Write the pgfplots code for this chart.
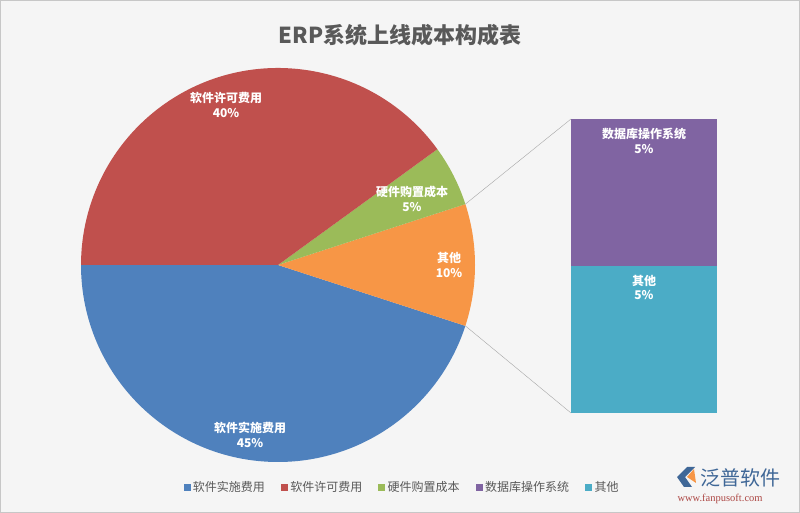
\documentclass[border=0pt]{standalone}
\usepackage{pgfplots}
\pgfplotsset{compat=1.18}
\usepackage{fontspec}
\setmainfont{Noto Sans CJK SC}
\newfontfamily\wmserif{Liberation Serif}
\definecolor{cBlue}{HTML}{4F81BD}
\definecolor{cRed}{HTML}{C0504D}
\definecolor{cGreen}{HTML}{9BBB59}
\definecolor{cPurple}{HTML}{8064A2}
\definecolor{cCyan}{HTML}{4BACC6}
\definecolor{cOrange}{HTML}{F79646}
\definecolor{txt}{HTML}{595959}
\tikzset{lbl/.style={text=white, align=center, font=\fontsize{12}{14.5}\selectfont\bfseries}}
\begin{document}
\begin{tikzpicture}
% main canvas: 1 axis unit = 1pt = 1 pixel of the reference
\begin{axis}[at={(0pt,0pt)}, anchor=south west,
    width=800pt, height=513pt, scale only axis,
    xmin=0, xmax=800, ymin=0, ymax=513,
    hide axis, clip=false,
    legend columns=-1,
    legend image code/.code={\fill[#1] (0pt,-3pt) rectangle (6pt,3pt);},
    legend style={draw=none, fill=none, at={(axis cs:402,26)}, anchor=center,
        font=\fontsize{12}{14}\selectfont, text=txt,
        /tikz/every odd column/.append style={column sep=1pt},
        /tikz/every even column/.append style={column sep=14pt}},
]
\fill[black!4] (axis cs:0,0) rectangle (axis cs:800,513);
\draw[black!22] (axis cs:0.5,0.5) rectangle (axis cs:799.5,512.5);

% pie: values in percent, starting at 180 deg, counter-clockwise
\def\acc{180}
\foreach \v/\c in {45/cBlue, 10/cOrange, 5/cGreen, 40/cRed}{
    \pgfmathsetmacro\a{\acc}
    \pgfmathsetmacro\b{\acc+3.6*\v}
    \edef\temp{\noexpand\fill[\c] (axis cs:278,248) -- ++(\a:197pt)
        arc[start angle=\a, end angle=\b, radius=197pt] -- cycle;}
    \temp
    \global\let\acc\b
}

% connector lines to the bar
\draw[black!35] (axis cs:278,248) ++(18:197pt) -- (axis cs:571,394);
\draw[black!35] (axis cs:278,248) ++(-18:197pt) -- (axis cs:571,100);

\node[lbl] at (axis cs:226,408) {软件许可费用\\40\%};
\node[lbl] at (axis cs:412,314) {硬件购置成本\\5\%};
\node[lbl] at (axis cs:449,248) {其他\\10\%};
\node[lbl] at (axis cs:250,78) {软件实施费用\\45\%};

% title
\node[text=txt, font=\fontsize{22}{26}\selectfont\bfseries] at (axis cs:400,478) {ERP系统上线成本构成表};

% watermark
\node[text=cBlue!80!black, font=\fontsize{20}{22}\selectfont, anchor=west] at (axis cs:697,35) {泛普软件};
\node[text=cRed!90!black, font=\wmserif\fontsize{10.5}{12}\selectfont, anchor=west] at (axis cs:674,14) {www.fanpusoft.com};
\fill[cBlue!80!black] (axis cs:677,36) -- (axis cs:687,46) -- (axis cs:695,46) -- (axis cs:685,36) -- (axis cs:692,26) -- (axis cs:684,26) -- cycle;
\fill[cOrange] (axis cs:687,36) -- (axis cs:694,44) -- (axis cs:696,30) -- cycle;

\addlegendimage{cBlue}\addlegendentry{软件实施费用}
\addlegendimage{cRed}\addlegendentry{软件许可费用}
\addlegendimage{cGreen}\addlegendentry{硬件购置成本}
\addlegendimage{cPurple}\addlegendentry{数据库操作系统}
\addlegendimage{cCyan}\addlegendentry{其他}
\end{axis}

% bar of the pie
\begin{axis}[at={(571pt,100pt)}, anchor=south west,
    width=146pt, height=294pt, scale only axis,
    xmin=-0.5, xmax=0.5, ymin=0, ymax=10,
    hide axis, clip=false, ybar stacked, bar width=146pt,
    after end axis/.code={
        \node[lbl] at (axis cs:0,9.25) {数据库操作系统\\5\%};
        \node[lbl] at (axis cs:0,4.27) {其他\\5\%};
    }]
\addplot[fill=cCyan, draw=none] coordinates {(0,5)};
\addplot[fill=cPurple, draw=none] coordinates {(0,5)};
\end{axis}
\end{tikzpicture}
\end{document}
